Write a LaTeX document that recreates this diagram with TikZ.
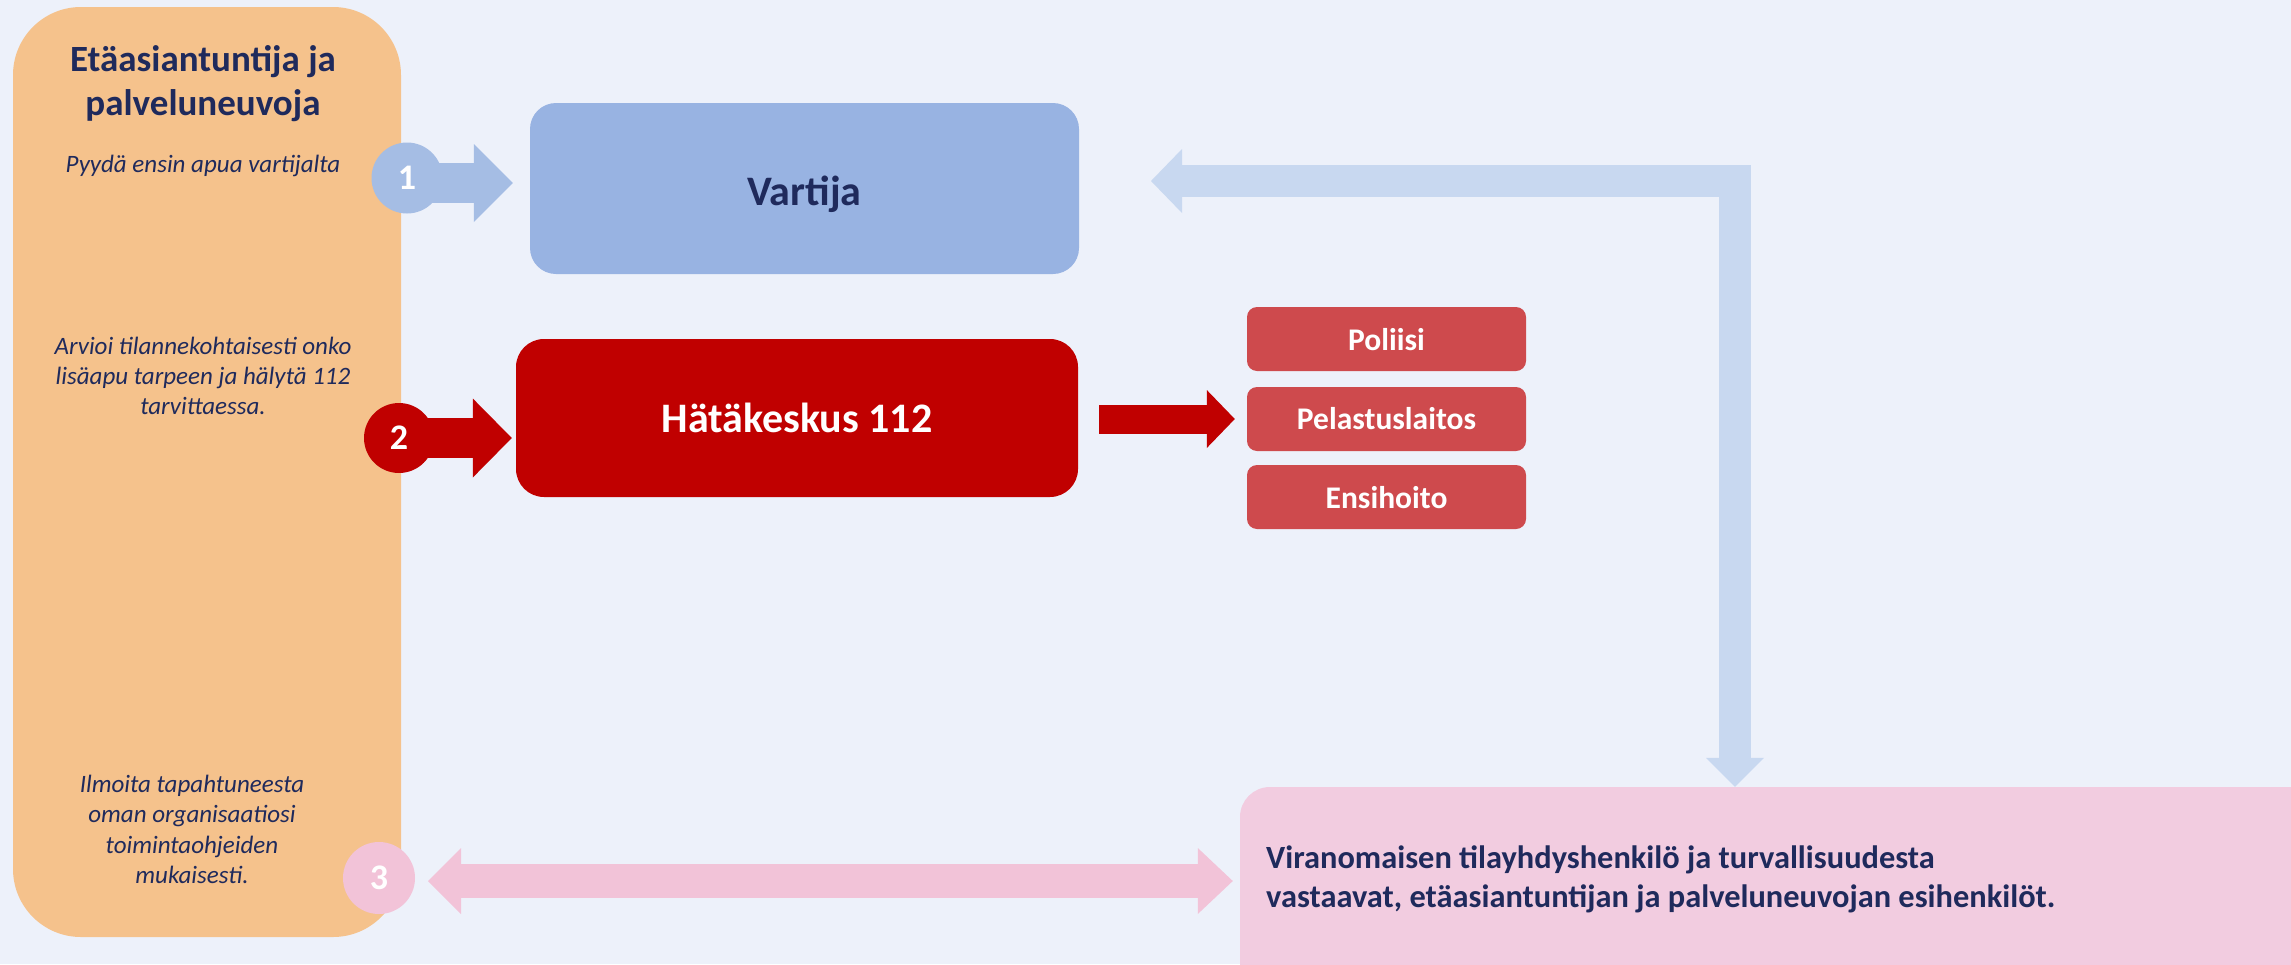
\documentclass[tikz,border=0pt]{standalone}
\usepackage{fontspec}
\setmainfont{Carlito}
\usetikzlibrary{arrows.meta}
\definecolor{bg}{HTML}{EDF1FA}
\definecolor{sideor}{HTML}{F5C28C}
\definecolor{navy}{HTML}{1F2A5C}
\definecolor{vblue}{HTML}{98B3E2}
\definecolor{cblue}{HTML}{A5BDE4}
\definecolor{lblue}{HTML}{C8D8F0}
\definecolor{dred}{HTML}{C00000}
\definecolor{mred}{HTML}{CE4A4D}
\definecolor{pinkbox}{HTML}{F2CCE0}
\definecolor{pinkarr}{HTML}{F2C3D8}
\tikzset{
  bx/.style={draw=none, inner sep=0pt, align=center},
  numcirc/.style={circle, draw=none, inner sep=0pt, minimum size=71pt, text=white,
    font=\fontsize{36}{40}\selectfont\bfseries, text height=23pt, text depth=0pt},
  smallred/.style={bx, fill=mred, rounded corners=10pt, minimum width=279pt, minimum height=64pt,
    text=white, font=\fontsize{31.5}{36}\selectfont\bfseries, text height=23pt, text depth=0pt},
  sidetxt/.style={align=center, inner sep=0pt, text=navy, font=\fontsize{25}{30}\selectfont\itshape},
}
\begin{document}
\begin{tikzpicture}[x=1pt,y=-1pt]
\fill[bg] (0,0) rectangle (2291,964);
\useasboundingbox (0,0) rectangle (2291,964);

% side panel
\node[bx, fill=sideor, rounded corners=68pt, minimum width=388pt, minimum height=930pt] (side) at (207,472) {};
\node[anchor=base, align=center, inner sep=0pt, text=navy, font=\fontsize{37}{44}\selectfont\bfseries] (title) at (203,115) {Etäasiantuntija ja\\palveluneuvoja};
\node[sidetxt, anchor=base] (t1) at (203,172) {Pyydä ensin apua vartijalta};
\node[sidetxt, anchor=base] (t2) at (203,414) {Arvioi tilannekohtaisesti onko\\lisäapu tarpeen ja hälytä 112\\tarvittaessa.};
\node[sidetxt, anchor=base, font=\fontsize{25}{30.5}\selectfont\itshape] (t3) at (192,883.5) {Ilmoita tapahtuneesta\\oman organisaatiosi\\toimintaohjeiden\\mukaisesti.};

% main boxes
\node[bx, fill=vblue, rounded corners=26pt, minimum width=549pt, minimum height=171pt,
  text=navy, font=\fontsize{42}{50}\selectfont\bfseries, text height=33pt, text depth=0pt] (vartija) at (804.5,188.5) {Vartija};
\node[bx, fill=dred, rounded corners=28pt, minimum width=562pt, minimum height=158pt,
  text=white, font=\fontsize{42}{50}\selectfont\bfseries, text height=28pt, text depth=0pt] (hatake) at (797,418) {Hätäkeskus 112};

\node[smallred] (poliisi) at (1386.5,339) {Poliisi};
\node[smallred, text height=21pt] (pelast) at (1386.5,419) {Pelastuslaitos};
\node[smallred] (ensi) at (1386.5,497) {Ensihoito};

% pink box (runs off the page)
\begin{scope}
\clip (0,0) rectangle (2291,964);
\node[bx, fill=pinkbox, rounded corners=30pt, minimum width=1090pt, minimum height=223pt] (pinkb) at (1785,898.5) {};
\end{scope}
\node[anchor=base west, align=left, inner sep=0pt, text=navy, font=\fontsize{32.4}{39}\selectfont\bfseries] (pinktxt) at (1266,907)
  {Viranomaisen tilayhdyshenkilö ja turvallisuudesta\\vastaavat, etäasiantuntijan ja palveluneuvojan esihenkilöt.};

% circle centres
\coordinate (c1p) at (407,178);
\coordinate (c2p) at (399,438);
\coordinate (c3p) at (379,878);

% arrow 1
\draw[cblue, line width=40pt, -{Triangle[width=78pt,length=39pt,line width=0pt]}, shorten >=17pt]
  ([yshift=-5pt]c1p) -- ([yshift=-5pt]c1p -| vartija.west);
% arrow 2
\draw[dred, line width=40pt, -{Triangle[width=79pt,length=39pt,line width=0pt]}, shorten >=4pt]
  (c2p) -- (c2p -| hatake.west);
% arrow 3
\draw[dred, line width=29pt, -{Triangle[width=58pt,length=28pt,line width=0pt]}, shorten <=21pt, shorten >=12pt]
  (hatake.east |- pelast.west) -- (pelast.west);
% pink double arrow
\draw[pinkarr, line width=34pt, {Triangle[width=66pt,length=33pt,line width=0pt]}-{Triangle[width=66pt,length=35pt,line width=0pt]}, shorten <=13pt, shorten >=7pt]
  ([xshift=36pt,yshift=-3pt]c3p) -- ([yshift=-3pt]c3p -| pinkb.west);
% light blue L arrow
\coordinate (lcorner) at (1735,181);
\coordinate (ltip) at (1151,181);
\draw[lblue, line width=32pt, {Triangle[width=64pt,length=31pt,line width=0pt]}-{Triangle[width=58pt,length=29pt,line width=0pt]}]
  (ltip) -- (lcorner) -- (lcorner |- pinkb.north);

\node[numcirc, fill=cblue] (c1) at (c1p) {1};
\node[numcirc, fill=dred, minimum size=70pt] (c2) at (c2p) {2};
\node[numcirc, fill=pinkarr, minimum size=72pt] (c3) at (c3p) {3};
\end{tikzpicture}
\end{document}
